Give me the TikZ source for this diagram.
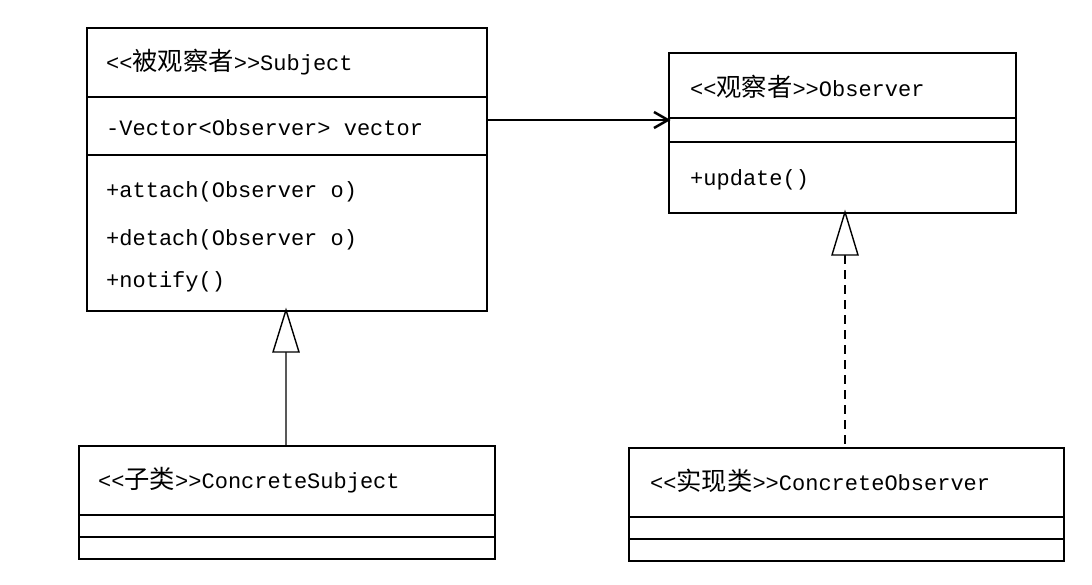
\documentclass[tikz,border=0pt]{standalone}
\usepackage{fontspec}
\setmainfont{Liberation Mono}
\newfontfamily\cjk{Noto Sans CJK SC}[Scale=1.15]
\begin{document}
\begin{tikzpicture}[x=1pt,y=-1pt,
  box/.style={draw,line width=1.5pt},
  txt/.style={anchor=west,font=\fontsize{22}{26}\selectfont,inner sep=0pt},
  tri/.style={draw,line width=1.4pt,fill=white}]
\useasboundingbox (0,0) rectangle (1092,584);
% Subject
\node[box,minimum width=400pt,minimum height=283pt,inner sep=0pt,anchor=north west] (S) at (86,27) {};
\draw[line width=1.5pt] (86,97) -- (486,97) (86,155) -- (486,155);
\node[txt] (s1) at (106,62) {{<}{<}{\cjk 被观察者}{>}{>}Subject};
\node[txt] (s2) at (106,128) {-Vector<Observer> vector};
\node[txt] (s3) at (106,192) {+attach(Observer o)};
\node[txt] (s4) at (106,240) {+detach(Observer o)};
\node[txt] (s5) at (106,282) {+notify()};
% Observer
\node[box,minimum width=347pt,minimum height=160pt,inner sep=0pt,anchor=north west] (O) at (668,52) {};
\draw[line width=1.5pt] (668,118) -- (1015,118) (668,142) -- (1015,142);
\node[txt] (o1) at (690,87) {{<}{<}{\cjk 观察者}{>}{>}Observer};
\node[txt] (o2) at (690,180) {+update()};
% ConcreteSubject
\node[box,minimum width=416pt,minimum height=113pt,inner sep=0pt,anchor=north west] (CS) at (78,445) {};
\draw[line width=1.5pt] (78,515) -- (494,515) (78,537) -- (494,537);
\node[txt] (cs1) at (98,480) {{<}{<}{\cjk 子类}{>}{>}ConcreteSubject};
% ConcreteObserver
\node[box,minimum width=435pt,minimum height=113pt,inner sep=0pt,anchor=north west] (CO) at (628,447) {};
\draw[line width=1.5pt] (628,517) -- (1063,517) (628,539) -- (1063,539);
\node[txt] (co1) at (650,481) {{<}{<}{\cjk 实现类}{>}{>}ConcreteObserver};
% association
\coordinate (a1) at (486,120);
\coordinate (a2) at (668,120);
\draw[line width=2.5pt] (a1) -- (a2);
\draw[line width=2.5pt] (654,112) -- (a2) -- (654,128);
% inheritance
\coordinate (t1) at (286,310);
\coordinate (b1) at (286,352);
\draw[line width=2.5pt,gray!70!black] (b1) -- (CS.north -| b1);
\draw[tri] (t1) -- (273,352) -- (299,352) -- cycle;
% realization
\coordinate (t2) at (845,212);
\coordinate (b2) at (845,255);
\draw[line width=2.5pt,dash pattern=on 9pt off 6pt] (b2) -- (CO.north -| b2);
\draw[tri] (t2) -- (832,255) -- (858,255) -- cycle;
\end{tikzpicture}
\end{document}
